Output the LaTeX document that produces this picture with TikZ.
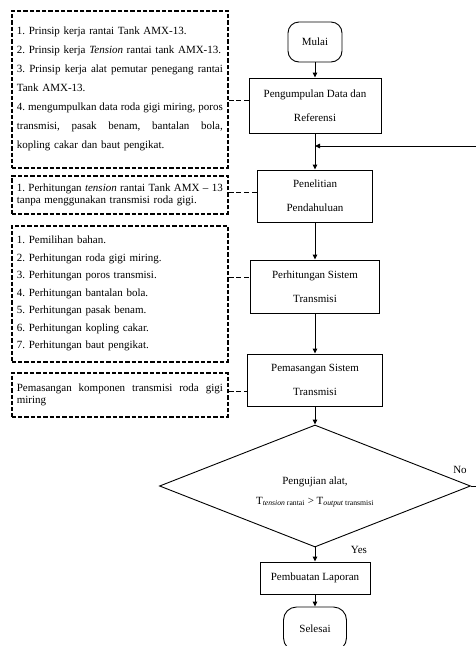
\documentclass[tikz,border=0pt]{standalone}
\usepackage{fontspec}
\setmainfont{Liberation Serif}
\usetikzlibrary{arrows.meta,shapes.geometric}
\newcommand{\jsp}{\hskip 2.75pt plus 1fil minus 1.2pt\relax}
\newcommand{\jline}[1]{\leavevmode\hbox to 206pt{#1}}
\frenchspacing
\begin{document}
\begin{tikzpicture}[x=1pt,y=-1pt,
  proc/.style={draw,line width=0.9pt,inner sep=0pt,align=center,font=\fontsize{11}{24}\selectfont},
  term/.style={draw,line width=0.9pt,rounded corners=11pt,inner sep=0pt,font=\fontsize{11}{13}\selectfont},
  note/.style={draw,line width=1.7pt,dash pattern=on 4.3pt off 2pt,inner sep=0pt,minimum width=216pt,text width=206pt,align=left,anchor=north west},
  flow/.style={line width=0.9pt,-{Triangle[length=5pt,width=4.5pt]}},
  link/.style={line width=1pt,dash pattern=on 5pt off 2.7pt},
  lbl/.style={font=\fontsize{11}{13}\selectfont,inner sep=0pt}
]
\useasboundingbox (0,0) rectangle (475,646);

% left notes
\node[note,minimum height=157pt,font=\fontsize{11}{19}\selectfont] (n1) at (11,10) {%
1. Prinsip kerja rantai Tank AMX-13.\\
2. Prinsip kerja \textit{Tension} rantai tank AMX-13.\\
\jline{3.\jsp Prinsip\jsp kerja\jsp alat\jsp pemutar\jsp penegang\jsp rantai}\\
Tank AMX-13.\\
\jline{4.\jsp mengumpulkan\jsp data\jsp roda\jsp gigi\jsp miring,\jsp poros}\\
\jline{transmisi,\jsp pasak\jsp benam,\jsp bantalan\jsp bola,}\\
kopling cakar dan baut pengikat.};

\node[note,minimum height=38pt,font=\fontsize{11}{12}\selectfont] (n2) at (11,175) {%
\jline{1.\jsp Perhitungan\jsp \textit{tension}\jsp rantai\jsp Tank\jsp AMX\jsp --\jsp 13}\\
tanpa menggunakan transmisi roda gigi.};

\node[note,minimum height=136pt,font=\fontsize{11}{17.5}\selectfont] (n3) at (11,225) {%
1. Pemilihan bahan.\\
2. Perhitungan roda gigi miring.\\
3. Perhitungan poros transmisi.\\
4. Perhitungan bantalan bola.\\
5. Perhitungan pasak benam.\\
6. Perhitungan kopling cakar.\\
7. Perhitungan baut pengikat.};

\node[note,minimum height=44pt,font=\fontsize{11}{12}\selectfont] (n4) at (11,372) {%
\jline{Pemasangan\jsp komponen\jsp transmisi\jsp roda\jsp gigi}\\
miring};

% main flow
\node[term,minimum width=54pt,minimum height=40pt] (mulai) at (315,42) {Mulai};
\node[proc,minimum width=132pt,minimum height=55pt] (pd) at (315,105.5) {Pengumpulan Data dan\\Referensi};
\node[proc,minimum width=115pt,minimum height=52pt] (pen) at (315,196) {Penelitian\\Pendahuluan};
\node[proc,minimum width=129pt,minimum height=53pt] (per) at (315,286.5) {Perhitungan Sistem\\Transmisi};
\node[proc,minimum width=135pt,minimum height=52pt] (pem) at (315,380) {Pemasangan Sistem\\Transmisi};
\node[diamond,draw,line width=0.9pt,inner sep=0pt,aspect=2.55,minimum width=311pt,minimum height=122pt] (dia) at (315,486) {};
\node[lbl,align=center,font=\fontsize{11}{20}\selectfont] (dtext) at (315,492) {Pengujian alat,\\T\textsubscript{\textit{tension} rantai} > T\textsubscript{\textit{output} transmisi}};
\node[proc,minimum width=110pt,minimum height=32pt] (lap) at (315,578) {Pembuatan Laporan};
\node[term,rounded corners=13pt,minimum width=63pt,minimum height=44pt] (sel) at (315,629) {Selesai};

\node[lbl] (no) at (460,470) {No};
\node[lbl] (yes) at (359,550) {Yes};

\draw[flow] (mulai) -- (pd);
\draw[flow] (pd) -- (pen);
\draw[flow] (pen) -- (per);
\draw[flow] (per) -- (pem);
\draw[flow] (pem) -- (dia.north);
\draw[flow] (dia.south) -- (lap);
\draw[flow] (lap) -- (sel);

\coordinate (fb) at (482,146);
\draw[flow] (dia.east) -- (dia.east -| fb) -- (fb) -- (pd.south |- fb);

% dashed links
\coordinate (y1) at (0,100);
\coordinate (y2) at (0,192);
\coordinate (y3) at (0,277);
\coordinate (y4) at (0,391);
\draw[link] (n1.east |- y1) -- (pd.west |- y1);
\draw[link] (n2.east |- y2) -- (pen.west |- y2);
\draw[link] (n3.east |- y3) -- (per.west |- y3);
\draw[link] (n4.east |- y4) -- (pem.west |- y4);
\end{tikzpicture}
\end{document}
